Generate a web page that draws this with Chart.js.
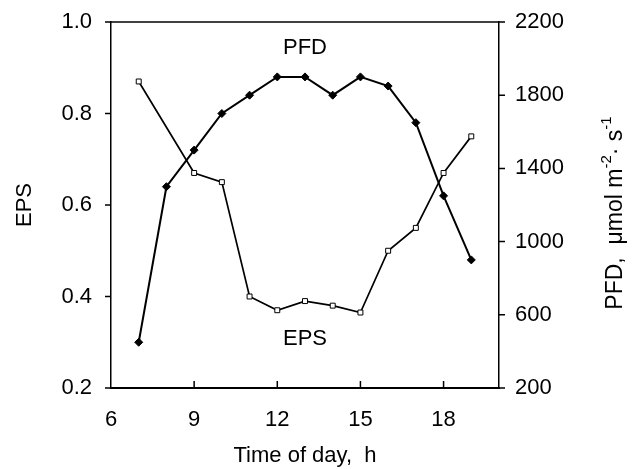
<!DOCTYPE html>
<html><head><meta charset="utf-8">
<script src="https://cdn.jsdelivr.net/npm/chart.js@4.4.0/dist/chart.umd.min.js"></script>
<style>html,body{margin:0;padding:0;background:#fff;} #wrap{width:634px;height:469px;}</style>
</head><body><div id="wrap"><canvas id="c" width="634" height="469"></canvas></div>
<script>
const hoursPFD = [7,8,9,10,11,12,13,14,15,16,17,18,19];
const pfdValues = [450,1300,1500,1700,1800,1900,1900,1800,1900,1850,1650,1250,900];
const hoursEPS = [7,9,10,11,12,13,14,15,16,17,18,19];
const epsValues = [0.87,0.67,0.65,0.40,0.37,0.39,0.38,0.365,0.50,0.55,0.67,0.75];
const xTicks = [6,9,12,15,18];
const epsTicks = [0.2,0.4,0.6,0.8,1.0];
const pfdTicks = [200,600,1000,1400,1800,2200];
const seriesLabels = [{text:'PFD', x:13, y:0.943},{text:'EPS', x:13, y:0.307}];
const xTitle = 'Time of day,  h';
const yTitle = 'EPS';
const y2TitleParts = [['PFD,  \u03bcmol m',0],['-2',1],['\u00b7 s',0],['-1',1]];

const FONT = '"Liberation Sans", Arial, sans-serif';
Chart.defaults.font.family = FONT;
Chart.defaults.color = '#000';

const decor = {
  id:'decor',
  afterDraw(chart){
    const ctx = chart.ctx, a = chart.chartArea;
    const sx = chart.scales.x, sy = chart.scales.y, sy2 = chart.scales.y2;
    ctx.save();
    ctx.strokeStyle = '#000'; ctx.lineWidth = 1.5;
    ctx.beginPath(); ctx.moveTo(a.left, a.top); ctx.lineTo(a.right, a.top); ctx.stroke();
    ctx.beginPath();
    xTicks.forEach(v => { if (v === sx.min) return; const px = sx.getPixelForValue(v); ctx.moveTo(px, a.bottom); ctx.lineTo(px, a.bottom - 7); });
    epsTicks.forEach(v => { const py = sy.getPixelForValue(v); ctx.moveTo(a.left, py); ctx.lineTo(a.left - 6, py); });
    pfdTicks.forEach(v => { const py = sy2.getPixelForValue(v); ctx.moveTo(a.right, py); ctx.lineTo(a.right + 6, py); });
    ctx.stroke();
    ctx.fillStyle = '#000';
    ctx.font = '22px ' + FONT; ctx.textAlign = 'center'; ctx.textBaseline = 'middle';
    seriesLabels.forEach(l => ctx.fillText(l.text, sx.getPixelForValue(l.x), sy.getPixelForValue(l.y)));
    // right axis title, reading bottom to top
    const main = '23px ' + FONT, sup = '15px ' + FONT;
    let total = 0;
    y2TitleParts.forEach(p => { ctx.font = p[1] ? sup : main; total += ctx.measureText(p[0]).width; });
    const cx = 616, cy = (a.top + a.bottom) / 2 + 8;
    ctx.translate(cx, cy); ctx.rotate(-Math.PI / 2);
    ctx.textAlign = 'left';
    let xx = -total / 2;
    y2TitleParts.forEach(p => {
      ctx.font = p[1] ? sup : main;
      ctx.fillText(p[0], xx, p[1] ? -9 : 0);
      xx += ctx.measureText(p[0]).width;
    });
    ctx.restore();
  }
};

const fixV = s => { s.paddingTop = 22; s.paddingBottom = 0; };

new Chart(document.getElementById('c'), {
  type: 'line',
  data: {
    datasets: [
      { label:'PFD', yAxisID:'y2', data: hoursPFD.map((h,i)=>({x:h, y:pfdValues[i]})),
        borderColor:'#000', backgroundColor:'#000', borderWidth:2, pointStyle:'rectRot', pointRadius:4,
        pointBackgroundColor:'#000', pointBorderColor:'#000', pointBorderWidth:1, tension:0 },
      { label:'EPS', yAxisID:'y', data: hoursEPS.map((h,i)=>({x:h, y:epsValues[i]})),
        borderColor:'#000', backgroundColor:'#fff', borderWidth:1.7, pointStyle:'rect', pointRadius:3.5,
        pointBackgroundColor:'#fff', pointBorderColor:'#000', pointBorderWidth:1, tension:0 }
    ]
  },
  options: {
    responsive:false, animation:false, devicePixelRatio:1,
    layout:{ padding:{ top:0, left:0, right:0, bottom:0 } },
    plugins:{ legend:{display:false}, tooltip:{enabled:false} },
    scales:{
      x:{ type:'linear', position:'bottom', min:6, max:20,
        afterBuildTicks: s => { s.ticks = xTicks.map(v => ({value:v})); },
        afterFit: s => { s.height = 81; s.paddingLeft = 0; s.paddingRight = 0; },
        grid:{ display:false, drawTicks:false },
        border:{ display:true, color:'#000', width:2 },
        ticks:{ font:{size:22}, color:'#000', padding:19, maxRotation:0 },
        title:{ display:true, text:xTitle, font:{size:22}, color:'#000', padding:{top:0, bottom:0} } },
      y:{ type:'linear', position:'left', min:0.2, max:1.0,
        afterBuildTicks: s => { s.ticks = epsTicks.map(v => ({value:v})); },
        afterFit: s => { s.width = 111; fixV(s); },
        grid:{ display:false, drawTicks:false },
        border:{ display:true, color:'#000', width:1.5 },
        ticks:{ font:{size:22}, color:'#000', padding:19, callback: v => Number(v).toFixed(1) },
        title:{ display:true, text:yTitle, font:{size:22}, color:'#000', padding:{top:12, bottom:0} } },
      y2:{ type:'linear', position:'right', min:200, max:2200,
        afterBuildTicks: s => { s.ticks = pfdTicks.map(v => ({value:v})); },
        afterFit: s => { s.width = 135; fixV(s); },
        grid:{ display:false, drawTicks:false },
        border:{ display:true, color:'#000', width:1.5 },
        ticks:{ font:{size:22}, color:'#000', padding:16, callback: v => String(v) } }
    }
  },
  plugins:[decor]
});
</script></body></html>
